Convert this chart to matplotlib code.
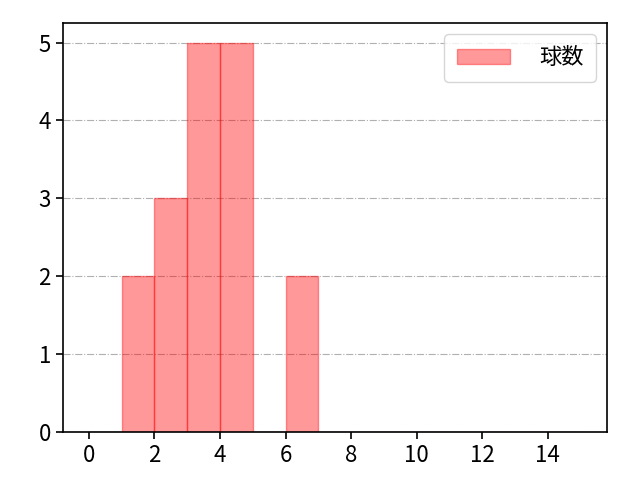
import matplotlib
matplotlib.use("Agg")
import matplotlib.pyplot as plt
import numpy as np

plt.rcParams['font.family'] = ['Noto Sans CJK JP', 'DejaVu Sans']

bin_edges = list(range(0, 16))
values = [0, 2, 3, 5, 5, 0, 2, 0, 0, 0, 0, 0, 0, 0, 0]
label = "球数"

fig, ax = plt.subplots(figsize=(6.4, 4.8), dpi=100)
fig.subplots_adjust(left=0.098, right=0.948, top=0.952, bottom=0.1)
ax.bar(bin_edges[:-1], values, width=1, align='edge', color='red', alpha=0.4,
       edgecolor='red', linewidth=1, label=label)
ax.set_xlim(-0.8, 15.8)
ax.set_ylim(0, 5.25)
ax.set_xticks(range(0, 16, 2))
ax.set_yticks(range(0, 6))
ax.yaxis.grid(True, linestyle='-.', color='#b0b0b0')
ax.set_axisbelow(True)
ax.tick_params(labelsize=16, length=5, width=1.2)
for s in ax.spines.values():
    s.set_linewidth(1.2)
ax.legend(loc='upper right', fontsize=16, handlelength=2.4, handletextpad=1.3,
          borderpad=0.55)
fig.savefig("out.png", dpi=100)
